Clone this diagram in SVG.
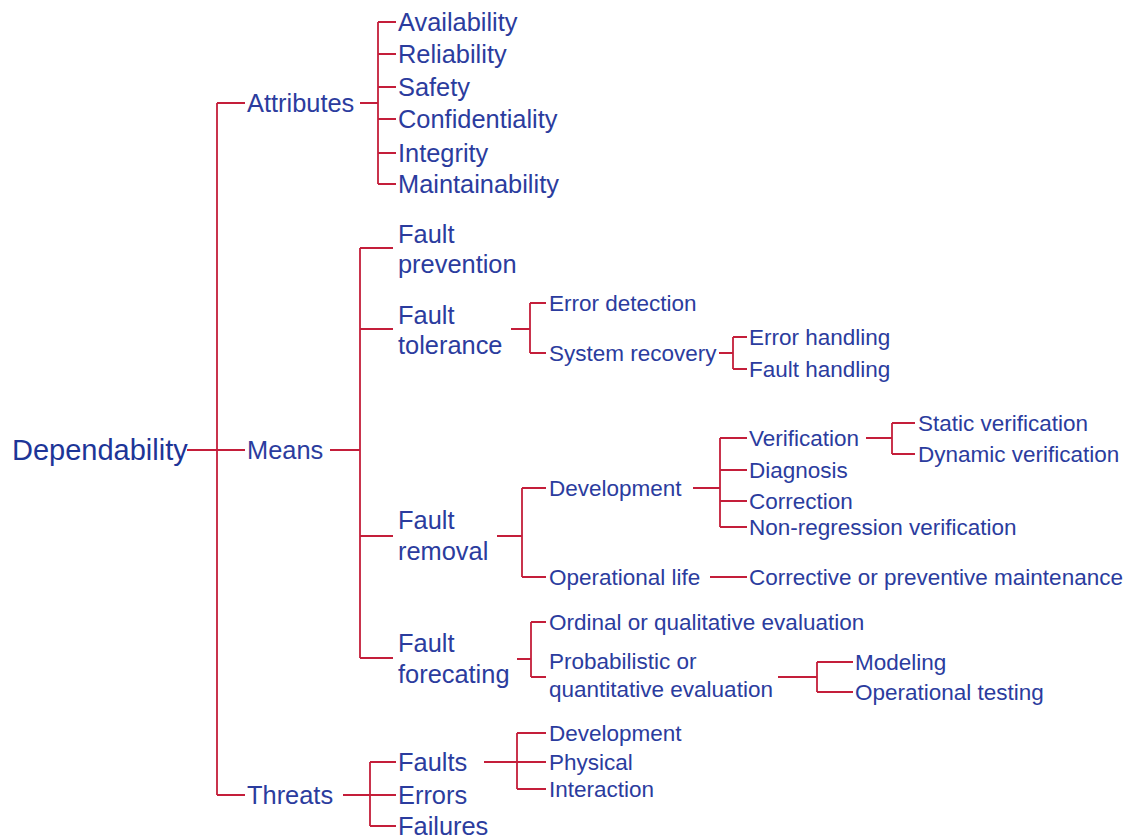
<svg xmlns="http://www.w3.org/2000/svg" width="1129" height="839" viewBox="0 0 1129 839">
<style>
text{font-family:"Liberation Sans",Arial,sans-serif;fill:#2b3c9e}
.b{font-size:25.4px}
.s{font-size:22.5px}
.r{font-size:29px;fill:#1d3597}
.c path{fill:none;stroke:#c41e3a;stroke-width:1.8}
</style>
<rect width="1129" height="839" fill="#fff"/>
<g class="c" id="connectors">
<path d="M217,103V795M217,103H245M187,450H245M217,795H245"/>
<path d="M360,103H378M378,22V184M378,22H396M378,54H396M378,87H396M378,119H396M378,153H396M378,184H396"/>
<path d="M330,450H360M360,248V658M360,248H393M360,329H393M360,536H393M360,658H393"/>
<path d="M511,329H530M530,303V353M530,303H546M530,353H546"/>
<path d="M719,353H733M733,337V369M733,337H747M733,369H747"/>
<path d="M497,536H522M522,488V577M522,488H546M522,577H546"/>
<path d="M693,488H720M720,438V527M720,438H747M720,470H747M720,501H747M720,527H747"/>
<path d="M866,438H892M892,423V454M892,423H915M892,454H915"/>
<path d="M710,577H747"/>
<path d="M517,659H531M531,622V677M531,622H546M531,677H546"/>
<path d="M778,677H817M817,662V692M817,662H853M817,692H853"/>
<path d="M343,795H370M370,762V826M370,762H396M370,795H396M370,826H396"/>
<path d="M484,762H517M517,733V789M517,733H546M517,762H546M517,789H546"/>
</g>
<g id="dependability"><text class="r" x="12" y="460">Dependability</text></g>
<g id="attributes"><text class="b" x="247" y="112">Attributes</text></g>
<g id="availability"><text class="b" x="398" y="31">Availability</text></g>
<g id="reliability"><text class="b" x="398" y="63">Reliability</text></g>
<g id="safety"><text class="b" x="398" y="96">Safety</text></g>
<g id="confidentiality"><text class="b" x="398" y="128">Confidentiality</text></g>
<g id="integrity"><text class="b" x="398" y="162">Integrity</text></g>
<g id="maintainability"><text class="b" x="398" y="193">Maintainability</text></g>
<g id="means"><text class="b" x="247" y="459">Means</text></g>
<g id="fault-prevention"><text class="b" x="398" y="243">Fault</text><text class="b" x="398" y="273">prevention</text></g>
<g id="fault-tolerance"><text class="b" x="398" y="324">Fault</text><text class="b" x="398" y="354">tolerance</text></g>
<g id="error-detection"><text class="s" x="549" y="311">Error detection</text></g>
<g id="system-recovery"><text class="s" x="549" y="361">System recovery</text></g>
<g id="error-handling"><text class="s" x="749" y="345">Error handling</text></g>
<g id="fault-handling"><text class="s" x="749" y="377">Fault handling</text></g>
<g id="fault-removal"><text class="b" x="398" y="529">Fault</text><text class="b" x="398" y="560">removal</text></g>
<g id="development-fr"><text class="s" x="549" y="496">Development</text></g>
<g id="verification"><text class="s" x="749" y="446">Verification</text></g>
<g id="static-verification"><text class="s" x="918" y="431">Static verification</text></g>
<g id="dynamic-verification"><text class="s" x="918" y="462">Dynamic verification</text></g>
<g id="diagnosis"><text class="s" x="749" y="478">Diagnosis</text></g>
<g id="correction"><text class="s" x="749" y="509">Correction</text></g>
<g id="non-regression"><text class="s" x="749" y="535">Non-regression verification</text></g>
<g id="operational-life"><text class="s" x="549" y="585">Operational life</text></g>
<g id="maintenance"><text class="s" x="749" y="585">Corrective or preventive maintenance</text></g>
<g id="fault-forecating"><text class="b" x="398" y="652">Fault</text><text class="b" x="398" y="683">forecating</text></g>
<g id="ordinal"><text class="s" x="549" y="630">Ordinal or qualitative evaluation</text></g>
<g id="probabilistic"><text class="s" x="549" y="669">Probabilistic or</text><text class="s" x="549" y="697">quantitative evaluation</text></g>
<g id="modeling"><text class="s" x="855" y="670">Modeling</text></g>
<g id="operational-testing"><text class="s" x="855" y="700">Operational testing</text></g>
<g id="threats"><text class="b" x="247" y="804">Threats</text></g>
<g id="faults"><text class="b" x="398" y="771">Faults</text></g>
<g id="errors"><text class="b" x="398" y="804">Errors</text></g>
<g id="failures"><text class="b" x="398" y="835">Failures</text></g>
<g id="development-f"><text class="s" x="549" y="741">Development</text></g>
<g id="physical"><text class="s" x="549" y="770">Physical</text></g>
<g id="interaction"><text class="s" x="549" y="797">Interaction</text></g>
</svg>
